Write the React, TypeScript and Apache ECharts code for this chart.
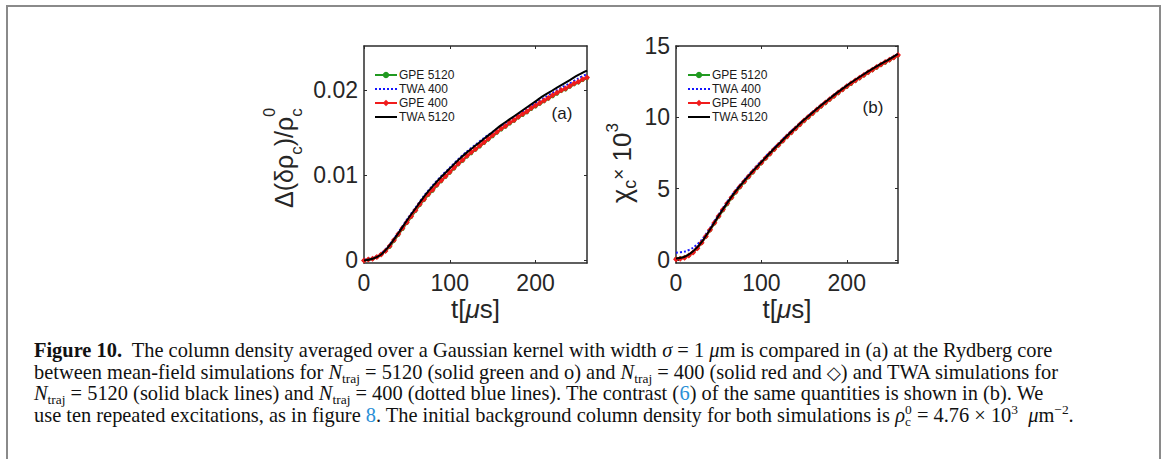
import React, { useEffect, useRef } from "react";
import * as echarts from "echarts";

// ---------------- data ----------------
const T5 = [0, 5, 10, 15, 20, 25, 30, 35, 40, 45, 50, 55, 60, 65, 70, 75, 80, 85, 90, 95, 100, 105, 110, 115, 120, 125, 130, 135, 140, 145, 150, 155, 160, 165, 170, 175, 180, 185, 190, 195, 200, 205, 210, 215, 220, 225, 230, 235, 240, 245, 250, 255, 260];
const T10 = [0, 10, 20, 30, 40, 50, 60, 70, 80, 90, 100, 110, 120, 130, 140, 150, 160, 170, 180, 190, 200, 210, 220, 230, 240, 250, 260];

// panel (a): Δ(δρc)/ρc0
const A_GPE5120 = [0.0, 0.0001, 0.0002, 0.0004, 0.0007, 0.0011, 0.0016, 0.0023, 0.003, 0.0037, 0.0044, 0.0051, 0.0058, 0.0065, 0.0071, 0.0077, 0.0082, 0.0088, 0.0093, 0.0098, 0.0103, 0.0108, 0.0113, 0.0117, 0.0122, 0.0126, 0.013, 0.0134, 0.0138, 0.0142, 0.0146, 0.015, 0.0154, 0.0157, 0.0161, 0.0164, 0.0168, 0.0171, 0.0174, 0.0178, 0.0181, 0.0184, 0.0187, 0.019, 0.0193, 0.0196, 0.0199, 0.0201, 0.0204, 0.0207, 0.0209, 0.0212, 0.0214];
const A_GPE400 = [0.0, 0.0001, 0.0002, 0.0004, 0.0007, 0.0011, 0.0017, 0.0024, 0.0031, 0.0038, 0.0045, 0.0052, 0.0059, 0.0066, 0.0072, 0.0078, 0.0083, 0.0089, 0.0094, 0.0099, 0.0104, 0.0109, 0.0114, 0.0118, 0.0123, 0.0127, 0.0131, 0.0135, 0.0139, 0.0143, 0.0147, 0.0151, 0.0155, 0.0158, 0.0162, 0.0165, 0.0169, 0.0172, 0.0175, 0.0179, 0.0182, 0.0185, 0.0188, 0.0191, 0.0194, 0.0197, 0.02, 0.0202, 0.0205, 0.0208, 0.021, 0.0213, 0.0215];
const A_TWA5120 = [0.0, 0.0002, 0.0007, 0.0018, 0.0032, 0.0047, 0.0061, 0.0075, 0.0087, 0.0098, 0.0108, 0.0118, 0.0127, 0.0135, 0.0143, 0.0151, 0.0159, 0.0166, 0.0173, 0.018, 0.0187, 0.0194, 0.02, 0.0206, 0.0212, 0.0218, 0.0223];
const A_TWA400 = [0.0001, 0.0003, 0.0008, 0.0019, 0.0033, 0.0048, 0.0062, 0.0076, 0.0088, 0.0099, 0.0109, 0.0119, 0.0128, 0.0136, 0.0144, 0.0151, 0.0158, 0.0165, 0.0172, 0.0178, 0.0185, 0.0191, 0.0197, 0.0203, 0.0208, 0.0214, 0.0219];

// panel (b): χc × 10^3
const B_GPE5120 = [0.08, 0.11, 0.17, 0.31, 0.52, 0.81, 1.18, 1.62, 2.08, 2.55, 3.02, 3.47, 3.9, 4.33, 4.72, 5.09, 5.45, 5.8, 6.13, 6.46, 6.78, 7.1, 7.41, 7.72, 8.02, 8.32, 8.61, 8.9, 9.18, 9.46, 9.73, 9.99, 10.25, 10.5, 10.75, 10.99, 11.23, 11.46, 11.69, 11.91, 12.13, 12.34, 12.54, 12.74, 12.93, 13.12, 13.3, 13.48, 13.66, 13.83, 14.0, 14.17, 14.33];
const B_GPE400 = [0.05, 0.08, 0.15, 0.3, 0.52, 0.82, 1.2, 1.65, 2.12, 2.6, 3.07, 3.53, 3.97, 4.38, 4.78, 5.15, 5.5, 5.85, 6.18, 6.5, 6.82, 7.14, 7.45, 7.76, 8.06, 8.36, 8.65, 8.94, 9.22, 9.5, 9.77, 10.03, 10.29, 10.54, 10.79, 11.03, 11.27, 11.5, 11.73, 11.95, 12.17, 12.38, 12.58, 12.78, 12.97, 13.16, 13.34, 13.52, 13.7, 13.87, 14.04, 14.2, 14.36];
const B_TWA5120 = [0.1, 0.22, 0.6, 1.25, 2.15, 3.1, 4.0, 4.82, 5.55, 6.22, 6.86, 7.5, 8.1, 8.7, 9.27, 9.82, 10.34, 10.84, 11.32, 11.78, 12.22, 12.63, 13.02, 13.39, 13.74, 14.08, 14.45];
const B_TWA400 = [0.5, 0.58, 0.85, 1.4, 2.25, 3.2, 4.08, 4.9, 5.62, 6.3, 6.94, 7.57, 8.17, 8.76, 9.32, 9.86, 10.37, 10.86, 11.34, 11.8, 12.23, 12.64, 13.03, 13.4, 13.75, 14.09, 14.45];

const X_TICKS = [0, 100, 200];
const A_Y_TICKS = [0, 0.01, 0.02];
const B_Y_TICKS = [0, 5, 10, 15];
const LEGEND_NAMES = ["GPE 5120", "TWA 400", "GPE 400", "TWA 5120"];

// ---------------- styling ----------------
const SANS = '"Liberation Sans", Arial, Helvetica, sans-serif';
const SERIF = '"Liberation Serif", "Times New Roman", serif';
const AX = "#2b2b2b";
const LBL = "#262626";
const GREEN = "#219a21";
const BLUE = "#1414ff";
const RED = "#f01c1c";
const LINK = "#2a8fd6";

let mctx: CanvasRenderingContext2D | null = null;
function measure(text: string, font: string): number {
  if (!mctx) mctx = document.createElement("canvas").getContext("2d");
  if (!mctx) return text.length * 8;
  mctx.font = font;
  return mctx.measureText(text).width;
}

type Run = { t: string; size: number; dy?: number; italic?: boolean; bold?: boolean; fill?: string; family?: string; stack?: boolean; gap?: number };

function runs(list: Run[], x0: number, base: number, family: string, defFill: string): any[] {
  const out: any[] = [];
  let x = x0;
  let lastX = x0;
  for (const r of list) {
    const fam = r.family || family;
    const font = `${r.italic ? "italic " : ""}${r.bold ? "bold " : ""}${r.size}px ${fam}`;
    if (r.gap) x += r.gap;
    const sx = r.stack ? lastX : x;
    const w = measure(r.t, font);
    out.push({
      type: "text",
      silent: true,
      x: sx,
      y: base + (r.dy || 0) - 0.34 * r.size,
      style: {
        text: r.t,
        font,
        fill: r.fill || defFill,
        align: "left",
        verticalAlign: "middle",
        textAlign: "left",
        textVerticalAlign: "middle",
      },
    });
    if (r.stack) x = Math.max(x, sx + w);
    else {
      lastX = sx;
      x = sx + w;
    }
  }
  return out;
}

function lineWidthOf(list: Run[], family: string): number {
  let w = 0;
  let last = 0;
  for (const r of list) {
    const font = `${r.italic ? "italic " : ""}${r.bold ? "bold " : ""}${r.size}px ${r.family || family}`;
    const ww = measure(r.t, font);
    if (r.stack) w = Math.max(w, last + ww);
    else {
      last = w;
      w += ww;
    }
  }
  return w;
}

function captionLines(fs: number): Run[][] {
  const sub = fs * 0.66;
  const N = (): Run[] => [
    { t: "N", size: fs, italic: true },
    { t: "traj", size: sub, dy: fs * 0.2 },
  ];
  return [
    [
      { t: "Figure 10.", size: fs, bold: true },
      { t: "  The column density averaged over a Gaussian kernel with width ", size: fs },
      { t: "σ", size: fs, italic: true },
      { t: " = 1 ", size: fs },
      { t: "μ", size: fs, italic: true },
      { t: "m is compared in (a) at the Rydberg core", size: fs },
    ],
    [
      { t: "between mean-field simulations for ", size: fs },
      ...N(),
      { t: " = 5120 (solid green and o) and ", size: fs },
      ...N(),
      { t: " = 400 (solid red and ", size: fs },
      { t: "◇", size: fs * 0.9, family: '"DejaVu Sans", sans-serif' },
      { t: ") and TWA simulations for", size: fs },
    ],
    [
      ...N(),
      { t: " = 5120 (solid black lines) and ", size: fs },
      ...N(),
      { t: " = 400 (dotted blue lines). The contrast (", size: fs },
      { t: "6", size: fs, fill: LINK },
      { t: ") of the same quantities is shown in (b). We", size: fs },
    ],
    [
      { t: "use ten repeated excitations, as in figure ", size: fs },
      { t: "8", size: fs, fill: LINK },
      { t: ". The initial background column density for both simulations is ", size: fs },
      { t: "ρ", size: fs, italic: true },
      { t: "c", size: sub, dy: fs * 0.2 },
      { t: "0", size: sub, dy: -fs * 0.36, stack: true },
      { t: " = 4.76 × 10", size: fs },
      { t: "3", size: sub, dy: -fs * 0.36 },
      { t: "  ", size: fs },
      { t: "μ", size: fs, italic: true },
      { t: "m", size: fs },
      { t: "−2", size: sub, dy: -fs * 0.36 },
      { t: ".", size: fs },
    ],
  ];
}

function xAxisDef(gridIndex: number, position: "bottom" | "top", showLabel: boolean) {
  return {
    type: "value",
    gridIndex,
    position,
    min: 0,
    max: 260,
    name: showLabel ? "t[{mu|μ}s]" : "",
    nameLocation: "middle",
    nameGap: 33,
    nameTextStyle: {
      fontFamily: SANS,
      fontSize: 26,
      color: LBL,
      rich: { mu: { fontFamily: SANS, fontSize: 26, fontStyle: "italic", color: LBL } },
    },
    axisLine: { show: true, onZero: false, lineStyle: { color: AX, width: 1.5 } },
    axisTick: { show: true, inside: true, length: 3, customValues: X_TICKS, lineStyle: { color: AX, width: 1 } },
    axisLabel: {
      show: showLabel,
      customValues: X_TICKS,
      fontFamily: SANS,
      fontSize: 23,
      color: LBL,
      margin: 8,
    },
    splitLine: { show: false },
  };
}

function yAxisDef(gridIndex: number, position: "left" | "right", showLabel: boolean, min: number, max: number, ticks: number[]) {
  return {
    type: "value",
    gridIndex,
    position,
    min,
    max,
    axisLine: { show: true, onZero: false, lineStyle: { color: AX, width: 1.5 } },
    axisTick: { show: true, inside: true, length: 3, customValues: ticks, lineStyle: { color: AX, width: 1 } },
    axisLabel: {
      show: showLabel,
      customValues: ticks,
      fontFamily: SANS,
      fontSize: 23,
      color: LBL,
      margin: 6,
      formatter: (v: number) => String(+v.toFixed(4)),
    },
    splitLine: { show: false },
  };
}

function panelSeries(xi: number, yi: number, gpe5120: number[], gpe400: number[], twa5120: number[], twa400: number[]) {
  const zip = (ts: number[], vs: number[]) => ts.map((t, i) => [t, vs[i]]);
  return [
    {
      name: "GPE 5120",
      type: "line",
      xAxisIndex: xi,
      yAxisIndex: yi,
      data: zip(T5, gpe5120),
      symbol: "circle",
      symbolSize: 4,
      showSymbol: true,
      lineStyle: { color: GREEN, width: 2 },
      itemStyle: { color: GREEN },
      z: 2,
    },
    {
      name: "TWA 400",
      type: "line",
      xAxisIndex: xi,
      yAxisIndex: yi,
      data: zip(T10, twa400),
      symbol: "none",
      smooth: 0.3,
      lineStyle: { color: BLUE, width: 2, type: [2, 2] },
      itemStyle: { color: BLUE },
      z: 3,
    },
    {
      name: "GPE 400",
      type: "line",
      xAxisIndex: xi,
      yAxisIndex: yi,
      data: zip(T5, gpe400),
      symbol: "diamond",
      symbolSize: 6,
      showSymbol: true,
      lineStyle: { color: RED, width: 2 },
      itemStyle: { color: RED },
      z: 4,
    },
    {
      name: "TWA 5120",
      type: "line",
      xAxisIndex: xi,
      yAxisIndex: yi,
      data: zip(T10, twa5120),
      symbol: "none",
      smooth: 0.3,
      lineStyle: { color: "#000", width: 2 },
      itemStyle: { color: "#000" },
      z: 5,
    },
  ];
}

const HIDDEN_MARK = { color: "rgba(0,0,0,0)", borderColor: "rgba(0,0,0,0)", borderWidth: 0 };

function legendDef(left: number) {
  return {
    data: LEGEND_NAMES.map((n) => (n.startsWith("TWA") ? { name: n, itemStyle: HIDDEN_MARK } : { name: n })),
    orient: "vertical",
    left,
    top: 69,
    itemWidth: 22,
    itemHeight: 8,
    itemGap: 2,
    padding: 0,
    selectedMode: false,
    textStyle: { fontFamily: SANS, fontSize: 12, color: "#1a1a1a", padding: [0, 0, 0, -3] },
  };
}

export default function App() {
  const ref = useRef<HTMLDivElement>(null);
  useEffect(() => {
    if (!ref.current) return;
    const chart = echarts.init(ref.current, undefined, { renderer: "svg" });

    // caption font size fitted to the reference line width
    const probe = captionLines(18);
    const w1 = lineWidthOf(probe[0], SERIF);
    const fs = w1 > 0 ? (18 * 1019) / w1 : 18;
    const lines = captionLines(fs);
    const baselines = [357, 378.5, 400, 421.5];
    const captionEls: any[] = [];
    lines.forEach((ln, i) => captionEls.push(...runs(ln, 34, baselines[i], SERIF, "#111")));

    const yLabelA = runs(
      [
        { t: "Δ(δρ", size: 25 },
        { t: "c", size: 17, dy: 10 },
        { t: ")/ρ", size: 25 },
        { t: "c", size: 17, dy: 10 },
        { t: "0", size: 16, dy: -17, stack: true },
      ],
      0,
      0,
      SANS,
      LBL
    );
    const yLabelB = runs(
      [
        { t: "χ", size: 27 },
        { t: "c", size: 18, dy: 5 },
        { t: "×", size: 19, dy: -6 },
        { t: " 10", size: 26 },
        { t: "3", size: 17, dy: -13 },
      ],
      0,
      0,
      SANS,
      LBL
    );

    const option: any = {
      animation: false,
      backgroundColor: "#fff",
      grid: [
        { left: 364, top: 46, width: 223, height: 217, containLabel: false, outerBoundsMode: "none" },
        { left: 676, top: 46, width: 222, height: 217, containLabel: false, outerBoundsMode: "none" },
      ],
      xAxis: [xAxisDef(0, "bottom", true), xAxisDef(0, "top", false), xAxisDef(1, "bottom", true), xAxisDef(1, "top", false)],
      yAxis: [
        yAxisDef(0, "left", true, -0.0003, 0.0252, A_Y_TICKS),
        yAxisDef(0, "right", false, -0.0003, 0.0252, A_Y_TICKS),
        yAxisDef(1, "left", true, -0.22, 15.0, B_Y_TICKS),
        yAxisDef(1, "right", false, -0.22, 15.0, B_Y_TICKS),
      ],
      legend: [legendDef(374), legendDef(687)],
      series: [
        ...panelSeries(0, 0, A_GPE5120, A_GPE400, A_TWA5120, A_TWA400),
        ...panelSeries(2, 2, B_GPE5120, B_GPE400, B_TWA5120, B_TWA400),
      ],
      graphic: [
        {
          type: "rect",
          silent: true,
          shape: { x: 7, y: 6, width: 1153, height: 470 },
          style: { fill: "none", stroke: "#8a8a8a", lineWidth: 2 },
          z: -10,
        },
        { type: "group", x: 292, y: 208, rotation: Math.PI / 2, children: yLabelA },
        { type: "group", x: 631, y: 203, rotation: Math.PI / 2, children: yLabelB },
        {
          type: "text",
          silent: true,
          x: 562,
          y: 113,
          style: { text: "(a)", font: `17px ${SANS}`, fill: "#1a1a1a", align: "center", verticalAlign: "middle", textAlign: "center", textVerticalAlign: "middle" },
        },
        {
          type: "text",
          silent: true,
          x: 873,
          y: 107,
          style: { text: "(b)", font: `17px ${SANS}`, fill: "#1a1a1a", align: "center", verticalAlign: "middle", textAlign: "center", textVerticalAlign: "middle" },
        },
        ...captionEls,
      ],
    };
    chart.setOption(option);
    return () => chart.dispose();
  }, []);
  return <div ref={ref} style={{ position: "fixed", left: 0, top: 0, width: 1163, height: 459, background: "#fff" }} />;
}
